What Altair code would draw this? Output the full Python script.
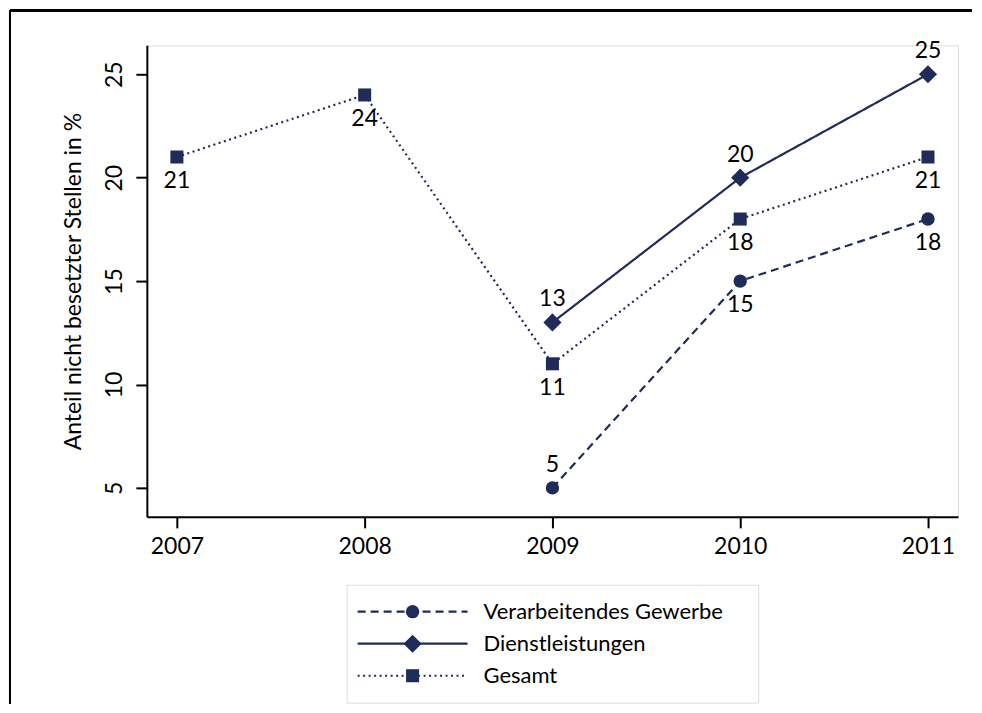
import altair as alt
import pandas as pd

# ---- data ----
years = [2007, 2008, 2009, 2010, 2011]
series = ["Verarbeitendes Gewerbe", "Dienstleistungen", "Gesamt"]
verarbeitendes = [None, None, 5, 15, 18]
dienstleistungen = [None, None, 13, 20, 25]
gesamt = [21, 24, 11, 18, 21]

# label placement relative to marker (True = above, False = below)
label_above = {
    "Verarbeitendes Gewerbe": [None, None, True, False, False],
    "Dienstleistungen": [None, None, True, True, True],
    "Gesamt": [False, False, False, False, False],
}

values = {
    "Verarbeitendes Gewerbe": verarbeitendes,
    "Dienstleistungen": dienstleistungen,
    "Gesamt": gesamt,
}

rows = []
for s in series:
    for i, y in enumerate(years):
        v = values[s][i]
        if v is None:
            continue
        rows.append({"series": s, "year": y, "value": v, "above": bool(label_above[s][i])})
df = pd.DataFrame(rows)

NAVY = "#1f2b59"
FONT = "Lato"
FS = 23

dash_scale = alt.Scale(domain=series, range=[[8, 5], [1, 0], [2, 3.5]])
marker_style = {
    "Verarbeitendes Gewerbe": ("circle", 180),
    "Dienstleistungen": ("diamond", 330),
    "Gesamt": ("square", 170),
}

x_enc = alt.X(
    "year:Q",
    scale=alt.Scale(domain=[2006.84, 2011.16], nice=False, zero=False),
    axis=alt.Axis(
        values=years, format="d", title=None, grid=False,
        tickSize=11, tickWidth=2, tickColor="black",
        domainColor="black", domainWidth=2,
        labelFontSize=FS, labelColor="black", labelFont=FONT, labelPadding=8,
    ),
)
y_enc = alt.Y(
    "value:Q",
    scale=alt.Scale(domain=[3.6, 26.4], nice=False, zero=False),
    axis=alt.Axis(
        values=[5, 10, 15, 20, 25], title="Anteil nicht besetzter Stellen in %",
        grid=False, tickSize=11, tickWidth=2, tickColor="black",
        domainColor="black", domainWidth=2,
        labelAngle=270, labelAlign="center", labelBaseline="bottom",
        labelFontSize=FS, labelColor="black", labelFont=FONT, labelPadding=9,
        titleFontSize=23, titleColor="black", titleFont=FONT, titleFontWeight="normal",
        titlePadding=18,
    ),
)

base = alt.Chart(df).encode(x=x_enc, y=y_enc)

lines = base.mark_line(strokeWidth=2.2, color=NAVY).encode(
    strokeDash=alt.StrokeDash("series:N", scale=dash_scale, legend=None),
    detail="series:N",
)
point_layers = []
for s in series:
    shp, sz = marker_style[s]
    point_layers.append(
        base.mark_point(filled=True, opacity=1, color=NAVY, shape=shp, size=sz)
        .transform_filter(alt.datum.series == s)
    )
txt_above = base.mark_text(dy=-23, fontSize=FS, font=FONT, color="black").encode(
    text="value:Q"
).transform_filter("datum.above")
txt_below = base.mark_text(dy=24, fontSize=FS, font=FONT, color="black").encode(
    text="value:Q"
).transform_filter("!datum.above")

frame_top = alt.Chart(df).mark_rule(color="black", strokeWidth=2).encode(
    x=alt.value(-137), x2=alt.value(826), y=alt.value(-35)
)
frame_left = alt.Chart(df).mark_rule(color="black", strokeWidth=2).encode(
    x=alt.value(-137), y=alt.value(-35), y2=alt.value(659)
)

main = alt.layer(frame_top, frame_left, lines, *point_layers, txt_above, txt_below).properties(
    width=812, height=472
)

# ---- legend box ----
leg_df = pd.DataFrame({"series": series})
leg_y = alt.Y("series:N", sort=series, scale=alt.Scale(type="point", padding=0.84), axis=None)
leg_base = alt.Chart(leg_df).encode(y=leg_y)
leg_rule = leg_base.mark_rule(strokeWidth=2.2, color=NAVY).encode(
    x=alt.value(11), x2=alt.value(121),
    strokeDash=alt.StrokeDash("series:N", scale=dash_scale, legend=None),
)
leg_pts = []
for s in series:
    shp, sz = marker_style[s]
    leg_pts.append(
        leg_base.mark_point(filled=True, opacity=1, color=NAVY, shape=shp, size=sz)
        .encode(x=alt.value(66))
        .transform_filter(alt.datum.series == s)
    )
leg_txt = leg_base.mark_text(align="left", fontSize=22, font=FONT, color="black").encode(
    x=alt.value(137), text="series:N"
)
legend = alt.layer(leg_rule, *leg_pts, leg_txt).properties(width=412, height=118)

chart = alt.vconcat(main, legend, spacing=68, center=True, bounds="flush").properties(
    padding={"left": 0, "top": 0, "right": 0, "bottom": 0}
).configure_view(stroke="black", strokeWidth=2).configure(font=FONT, background="white")

chart.save("out.html", embed_options={"renderer": "svg", "actions": False})
